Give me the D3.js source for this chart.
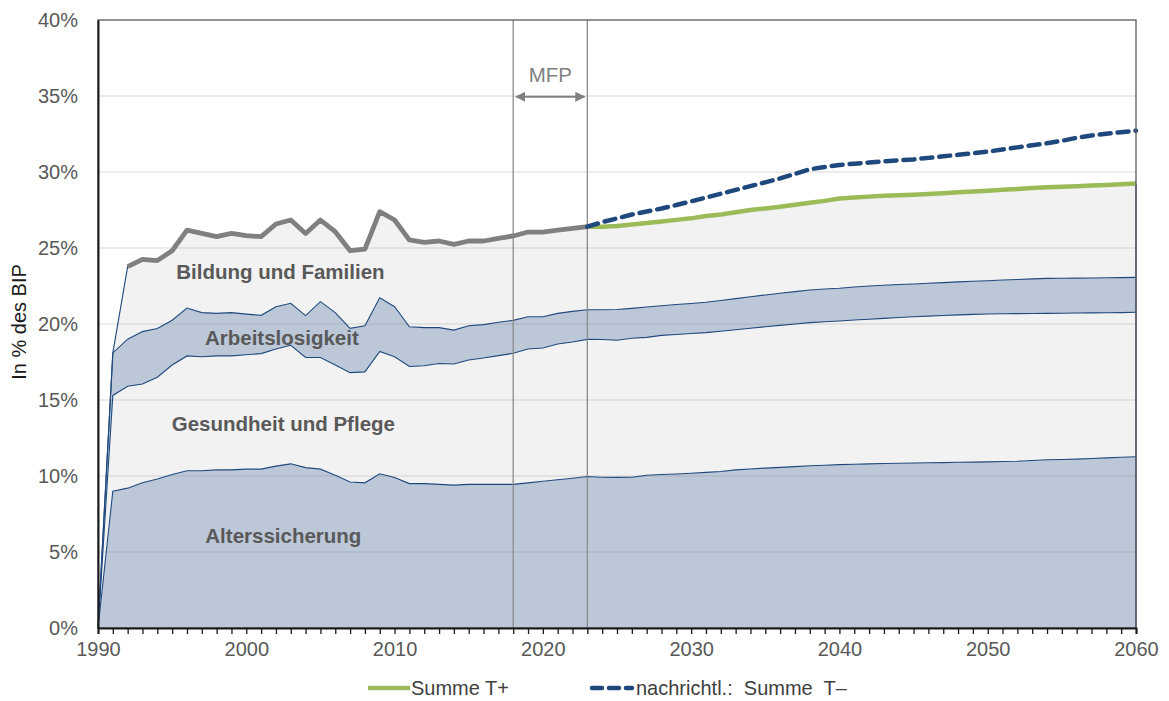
<!DOCTYPE html>
<html>
<head>
<meta charset="utf-8">
<script src="https://cdn.jsdelivr.net/npm/d3@7"></script>
<style>
  body { margin: 0; background: #fff; }
  svg { display: block; font-family: "Liberation Sans", Arial, sans-serif; }
</style>
</head>
<body>
<svg id="chart" width="1169" height="701"></svg>
<script>
// Years 1990 - 2060
const years = d3.range(1990, 2061);

// cumulative boundaries in % of GDP
const alterssicherung = [0, 9.0, 9.2, 9.55, 9.8, 10.1, 10.35, 10.35, 10.4, 10.4, 10.45, 10.45, 10.65, 10.8, 10.55, 10.45, 10.05, 9.6, 9.55, 10.15,
  9.9, 9.5, 9.5, 9.45, 9.4, 9.45, 9.45, 9.45, 9.45, 9.55, 9.65, 9.75, 9.85, 9.97, 9.92, 9.91, 9.92, 10.05, 10.1, 10.13,
  10.18, 10.24, 10.3, 10.4, 10.46, 10.52, 10.57, 10.62, 10.67, 10.71, 10.75, 10.77, 10.8, 10.82, 10.84, 10.86, 10.87, 10.88, 10.9, 10.91,
  10.93, 10.95, 10.97, 11.02, 11.07, 11.09, 11.11, 11.15, 11.19, 11.23, 11.27];

const gesundheit = [0, 15.3, 15.9, 16.05, 16.5, 17.3, 17.9, 17.85, 17.9, 17.9, 17.98, 18.05, 18.35, 18.6, 17.8, 17.8, 17.3, 16.8, 16.85, 18.2,
  17.85, 17.2, 17.25, 17.4, 17.37, 17.63, 17.76, 17.92, 18.07, 18.36, 18.42, 18.68, 18.82, 18.99, 18.98, 18.93, 19.06, 19.12, 19.25, 19.31,
  19.37, 19.43, 19.52, 19.62, 19.72, 19.82, 19.91, 20.0, 20.09, 20.15, 20.2, 20.26, 20.31, 20.37, 20.43, 20.48, 20.52, 20.56, 20.6, 20.63,
  20.66, 20.67, 20.68, 20.69, 20.7, 20.71, 20.72, 20.73, 20.74, 20.75, 20.77];

const arbeitslosigkeit = [0, 18.1, 19.0, 19.5, 19.7, 20.25, 21.05, 20.75, 20.7, 20.75, 20.65, 20.57, 21.14, 21.36, 20.55, 21.47, 20.75, 19.71, 19.89, 21.73,
  21.14, 19.82, 19.76, 19.76, 19.6, 19.89, 19.96, 20.11, 20.24, 20.48, 20.48, 20.7, 20.83, 20.94, 20.94, 20.95, 21.03, 21.12, 21.2, 21.28,
  21.35, 21.43, 21.55, 21.67, 21.79, 21.91, 22.02, 22.13, 22.24, 22.3, 22.35, 22.43, 22.5, 22.55, 22.6, 22.63, 22.68, 22.72, 22.77, 22.81,
  22.85, 22.89, 22.93, 22.97, 23.0, 23.01, 23.02, 23.03, 23.04, 23.05, 23.07];

// Summe T+ (top of Bildung und Familien)
const summeTplus = [0, 18.1, 23.77, 24.25, 24.17, 24.82, 26.18, 25.96, 25.75, 25.96, 25.81, 25.75, 26.58, 26.84, 25.96, 26.84, 26.07, 24.82, 24.93, 27.39,
  26.84, 25.53, 25.37, 25.46, 25.24, 25.46, 25.46, 25.64, 25.79, 26.05, 26.05, 26.18, 26.29, 26.4, 26.4, 26.45, 26.55, 26.65, 26.75, 26.85,
  26.95, 27.1, 27.2, 27.35, 27.5, 27.6, 27.72, 27.85, 27.98, 28.1, 28.25, 28.32, 28.38, 28.43, 28.47, 28.5, 28.55, 28.6, 28.66, 28.72,
  28.77, 28.83, 28.88, 28.94, 28.99, 29.03, 29.07, 29.11, 29.15, 29.2, 29.25];

// nachrichtl.: Summe T- (2023 - 2060)
const yearsTminus = d3.range(2023, 2061);
const summeTminus = [26.4, 26.7, 26.95, 27.2, 27.4, 27.6, 27.83, 28.07, 28.32, 28.57, 28.82, 29.07, 29.32, 29.58, 29.88, 30.18, 30.33, 30.46, 30.55, 30.62,
  30.7, 30.77, 30.83, 30.93, 31.03, 31.13, 31.23, 31.34, 31.48, 31.62, 31.76, 31.89, 32.05, 32.25, 32.4, 32.52, 32.62, 32.72];

const yTicks = [0, 5, 10, 15, 20, 25, 30, 35, 40];
const xTicks = [1990, 2000, 2010, 2020, 2030, 2040, 2050, 2060];
const mfpYears = [2018, 2023];

const areaLabels = [
  { name: "Bildung und Familien", year: 2002.3, value: 22.95 },
  { name: "Arbeitslosigkeit", year: 2002.4, value: 18.65 },
  { name: "Gesundheit und Pflege", year: 2002.5, value: 12.95 },
  { name: "Alterssicherung", year: 2002.5, value: 5.6 }
];

// layout
const margin = { top: 20, right: 33, bottom: 73, left: 98 };
const width = 1169, height = 701;
const innerW = width - margin.left - margin.right;
const innerH = height - margin.top - margin.bottom;

const svg = d3.select("#chart");
const g = svg.append("g").attr("transform", `translate(${margin.left},${margin.top})`);

const x = d3.scaleLinear().domain([1990, 2060]).range([0, innerW]);
const y = d3.scaleLinear().domain([0, 40]).range([innerH, 0]);

const blueFill = "#bcc7d7";
const greyFill = "#f2f2f2";
const blueLine = "#1f497d";

// bands: [lower, upper, fill]
const bands = [
  [null, alterssicherung, blueFill],
  [alterssicherung, gesundheit, greyFill],
  [gesundheit, arbeitslosigkeit, blueFill],
  [arbeitslosigkeit, summeTplus, greyFill]
];

bands.forEach(([lo, hi, fill]) => {
  const area = d3.area()
    .x((d, i) => x(years[i]))
    .y0((d, i) => lo ? y(lo[i]) : y(0))
    .y1((d) => y(d));
  g.append("path").datum(hi).attr("d", area).attr("fill", fill);
});

// grid lines on top of the areas
g.append("g")
  .selectAll("line")
  .data(yTicks.filter((t) => t > 0 && t < 40))
  .enter()
  .append("line")
  .attr("x1", 0)
  .attr("x2", innerW)
  .attr("y1", (d) => y(d))
  .attr("y2", (d) => y(d))
  .attr("stroke", "rgba(128,128,128,0.2)")
  .attr("stroke-width", 1.5);

// thin blue boundary lines
const thinLine = d3.line().x((d, i) => x(years[i])).y((d) => y(d));
[alterssicherung, gesundheit, arbeitslosigkeit, summeTplus].forEach((s) => {
  g.append("path").datum(s).attr("d", thinLine)
    .attr("fill", "none").attr("stroke", blueLine).attr("stroke-width", 1.1);
});
// right edge of the stacked areas
g.append("line")
  .attr("x1", x(2060)).attr("x2", x(2060))
  .attr("y1", y(0)).attr("y2", y(summeTplus[summeTplus.length - 1]))
  .attr("stroke", blueLine).attr("stroke-width", 1.2);

// MFP vertical lines
g.selectAll(".mfp")
  .data(mfpYears)
  .enter()
  .append("line")
  .attr("x1", (d) => x(d)).attr("x2", (d) => x(d))
  .attr("y1", 0).attr("y2", innerH)
  .attr("stroke", "#8c8c8c").attr("stroke-width", 1.3);

// MFP arrow
svg.append("defs").html(`
  <marker id="ah" viewBox="0 0 10 10" refX="9" refY="5" markerWidth="5" markerHeight="5" orient="auto-start-reverse">
    <path d="M0,0 L10,5 L0,10 z" fill="#808080"></path>
  </marker>`);
g.append("line")
  .attr("x1", x(2018) + 3).attr("x2", x(2023) - 3)
  .attr("y1", y(34.95)).attr("y2", y(34.95))
  .attr("stroke", "#808080").attr("stroke-width", 2)
  .attr("marker-start", "url(#ah)").attr("marker-end", "url(#ah)");
g.append("text")
  .attr("x", (x(2018) + x(2023)) / 2).attr("y", y(35.9))
  .attr("text-anchor", "middle")
  .attr("fill", "#808080").attr("font-size", 20.5)
  .text("MFP");

// historic total (grey thick line), 1992 - 2023
const histIdx = years.map((yr, i) => i).filter((i) => years[i] >= 1992 && years[i] <= 2023);
g.append("path")
  .datum(histIdx)
  .attr("d", d3.line().x((i) => x(years[i])).y((i) => y(summeTplus[i])))
  .attr("fill", "none").attr("stroke", "#808080").attr("stroke-width", 4.8)
  .attr("stroke-linejoin", "round");

// Summe T+ (green), 2023 - 2060
const projIdx = years.map((yr, i) => i).filter((i) => years[i] >= 2023);
g.append("path")
  .datum(projIdx)
  .attr("d", d3.line().x((i) => x(years[i])).y((i) => y(summeTplus[i])))
  .attr("fill", "none").attr("stroke", "#9bbb59").attr("stroke-width", 4.5);

// Summe T- (dashed)
g.append("path")
  .datum(summeTminus)
  .attr("d", d3.line().x((d, i) => x(yearsTminus[i])).y((d) => y(d)))
  .attr("fill", "none").attr("stroke", blueLine).attr("stroke-width", 4.5)
  .attr("stroke-dasharray", "11,7").attr("stroke-linecap", "round");

// area labels
g.selectAll(".alabel")
  .data(areaLabels)
  .enter()
  .append("text")
  .attr("x", (d) => x(d.year)).attr("y", (d) => y(d.value))
  .attr("text-anchor", "middle")
  .attr("fill", "#595959").attr("font-size", 20.5).attr("font-weight", "bold")
  .text((d) => d.name);

// frame
g.append("rect").attr("width", innerW).attr("height", innerH)
  .attr("fill", "none").attr("stroke", "#595959").attr("stroke-width", 1.3);

// axes
const xAxis = g.append("g").attr("transform", `translate(0,${innerH})`)
  .call(d3.axisBottom(x).tickValues(years).tickSize(6).tickFormat((d) => xTicks.includes(d) ? d : ""));
xAxis.select(".domain").attr("stroke", "#1a1a1a").attr("stroke-width", 2);
xAxis.selectAll(".tick line").attr("stroke", "#1a1a1a").attr("stroke-width", 1.3);
xAxis.selectAll("text").attr("font-size", 20).attr("fill", "#595959").attr("dy", "0.95em")
  .attr("font-family", "Liberation Sans, Arial, sans-serif");

const yAxis = g.append("g")
  .call(d3.axisLeft(y).tickValues(yTicks).tickSize(0).tickPadding(20).tickFormat((d) => d + "%"));
yAxis.select(".domain").attr("stroke", "#1a1a1a").attr("stroke-width", 2);
yAxis.selectAll("text").attr("font-size", 20).attr("fill", "#595959")
  .attr("font-family", "Liberation Sans, Arial, sans-serif");

// y axis title
svg.append("text")
  .attr("transform", `translate(26,${margin.top + innerH / 2 - 2}) rotate(-90)`)
  .attr("text-anchor", "middle")
  .attr("font-size", 20).attr("fill", "#1a1a1a")
  .text("In % des BIP");

// legend
const legend = svg.append("g").attr("transform", "translate(0,688)");
legend.append("line").attr("x1", 368).attr("x2", 410).attr("y1", 0).attr("y2", 0)
  .attr("stroke", "#9bbb59").attr("stroke-width", 4.5);
legend.append("text").attr("x", 411).attr("y", 7).attr("font-size", 20).attr("fill", "#404040")
  .text("Summe T+");
legend.append("line").attr("x1", 592).attr("x2", 632).attr("y1", 0).attr("y2", 0)
  .attr("stroke", blueLine).attr("stroke-width", 4.5)
  .attr("stroke-dasharray", "10,7").attr("stroke-linecap", "round");
legend.append("text").attr("x", 636).attr("y", 7).attr("font-size", 20).attr("fill", "#404040")
  .attr("xml:space", "preserve")
  .text("nachrichtl.:  Summe  T\u2013");
</script>
</body>
</html>
